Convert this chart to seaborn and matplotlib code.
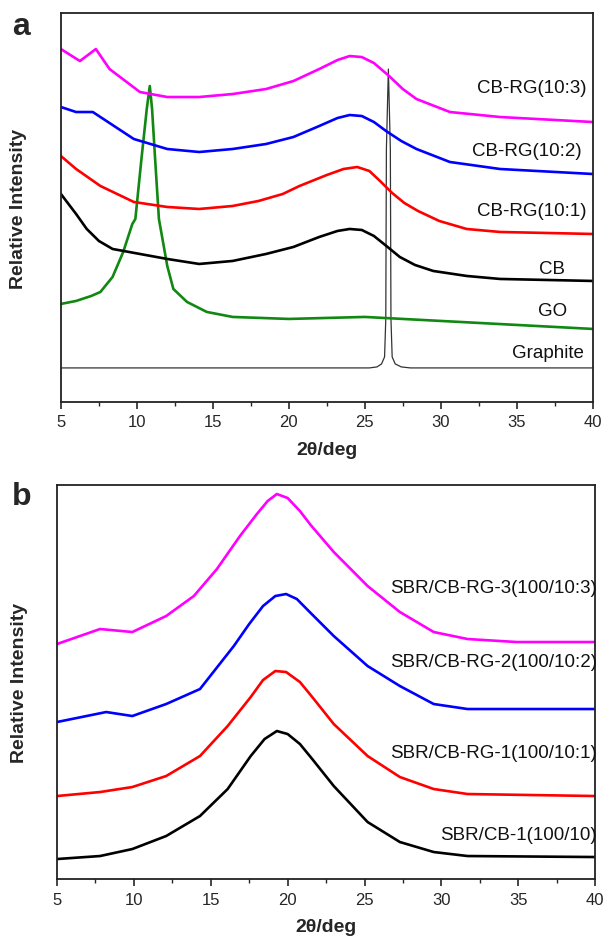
import matplotlib
matplotlib.use("Agg")
import matplotlib.pyplot as plt
import seaborn as sns
from matplotlib.ticker import MultipleLocator

sns.set_style("ticks")
plt.rcParams['font.family'] = ['Liberation Sans', 'DejaVu Sans']

# %% panel a data (2theta in deg, relative intensity in arbitrary units)
graphite_x = [5, 25.3, 25.8, 26.1, 26.3, 26.38, 26.42, 26.55, 26.68, 26.72, 26.8, 27.0, 27.4, 28, 40]
graphite_y = [34, 34, 35, 38, 45, 83, 253, 333, 253, 83, 45, 38, 35, 34, 34]

go_x = [5, 6, 7, 7.6, 8.4, 9.1, 9.7, 9.9, 10.3, 10.65, 10.85, 11.0, 11.2, 11.45, 12.0,
        12.4, 13.3, 14.6, 16.3, 20, 25, 30, 35, 40]
go_y = [98, 101, 106, 110, 125, 150, 178, 183, 243, 293, 316, 293, 243, 183, 136,
        113, 100, 90, 85, 83, 85, 81, 77, 73]

cb_x = [5, 6, 6.7, 7.5, 8.4, 10.2, 12, 14.1, 16.3, 18.5, 20.3, 22, 23.2, 24, 24.8, 25.6, 26.5,
        27.3, 28.3, 29.5, 31.7, 33.9, 40]
cb_y = [208, 188, 173, 161, 153, 148, 143, 138, 141, 148, 155, 165, 171, 173, 172, 166, 155,
        145, 137, 131, 126, 123, 121]

rg1_x = [5, 6, 7.6, 9.8, 12, 14.1, 16.3, 18, 19.6, 20.7, 22.5, 23.6, 24.5, 25.3, 26.0, 26.8,
         27.6, 28.5, 29.9, 31.7, 33.9, 40]
rg1_y = [246, 233, 216, 200, 195, 193, 196, 201, 208, 216, 227, 233, 235, 231, 221, 209,
         199, 191, 181, 173, 170, 168]

rg2_x = [5, 6, 7.1, 8, 9.8, 12, 14.1, 16.3, 18.5, 20.3, 22, 23.2, 24, 24.8, 25.6, 26.4,
         27.4, 28.4, 30.6, 33.9, 40]
rg2_y = [295, 290, 290, 281, 263, 253, 250, 253, 258, 265, 276, 284, 287, 286, 280, 271,
         261, 253, 240, 233, 228]

rg3_x = [5, 6.25, 7.3, 8.2, 10.2, 12, 14.1, 16.3, 18.5, 20.3, 22, 23.2, 24, 24.8, 25.6, 26.6,
         27.5, 28.4, 30.6, 33.9, 40]
rg3_y = [353, 341, 353, 333, 310, 305, 305, 308, 313, 321, 333, 342, 346, 345, 339, 326,
         313, 303, 290, 285, 280]

# %% panel b data
sbr3_x = [5, 7.8, 9.9, 12.1, 13.9, 15.4, 16.9, 18.0, 18.7, 19.3, 20.0, 20.8, 21.5, 23, 25.2,
          27.3, 29.5, 31.7, 34.9, 40]
sbr3_y = [235, 250, 247, 263, 283, 310, 343, 365, 378, 385, 381, 368, 354, 327, 293,
          267, 247, 240, 237, 237]

sbr2_x = [5, 8.2, 9.9, 12.1, 14.3, 16.5, 17.5, 18.4, 19.2, 19.9, 20.6, 21.5, 23, 25.2, 27.3,
          29.5, 31.7, 40]
sbr2_y = [157, 167, 163, 175, 190, 233, 255, 273, 283, 285, 280, 266, 243, 213, 193,
          175, 170, 170]

sbr1_x = [5, 7.8, 9.9, 12.1, 14.3, 16.1, 17.6, 18.4, 19.2, 19.9, 20.8, 21.6, 23, 25.2, 27.3,
          29.5, 31.7, 40]
sbr1_y = [83, 87, 92, 103, 123, 153, 182, 199, 208, 207, 197, 182, 155, 123, 102,
          90, 85, 83]

sbr0_x = [5, 7.8, 9.9, 12.1, 14.3, 16.1, 17.6, 18.5, 19.3, 20.0, 20.8, 21.6, 23, 25.2, 27.3,
          29.5, 31.7, 40]
sbr0_y = [20, 23, 30, 43, 63, 90, 123, 140, 148, 145, 135, 120, 93, 57, 37, 27, 23, 22]

labels_a = ['CB-RG(10:3)', 'CB-RG(10:2)', 'CB-RG(10:1)', 'CB', 'GO', 'Graphite']
labels_b = ['SBR/CB-RG-3(100/10:3)', 'SBR/CB-RG-2(100/10:2)', 'SBR/CB-RG-1(100/10:1)', 'SBR/CB-1(100/10)']

fig = plt.figure(figsize=(6.03, 9.37), dpi=100)
ax1 = fig.add_axes([0.101, 0.570, 0.882, 0.415])
ax2 = fig.add_axes([0.0945, 0.0608, 0.8925, 0.4205])

lw = 1.9

# %% panel a curves
sns.lineplot(x=graphite_x, y=graphite_y, ax=ax1, color='#333333', linewidth=0.9)
sns.lineplot(x=go_x, y=go_y, ax=ax1, color='#118811', linewidth=lw)
sns.lineplot(x=cb_x, y=cb_y, ax=ax1, color='black', linewidth=lw)
sns.lineplot(x=rg1_x, y=rg1_y, ax=ax1, color='#ff0000', linewidth=lw)
sns.lineplot(x=rg2_x, y=rg2_y, ax=ax1, color='#0000ff', linewidth=lw)
sns.lineplot(x=rg3_x, y=rg3_y, ax=ax1, color='#ff00ff', linewidth=lw)
ax1.set_ylim(0, 389)

# label placement (deg, intensity)
lab_a_x = [39.6, 39.3, 39.6, 38.2, 38.3, 39.4]
lab_a_y = [315, 252, 191, 133, 91, 49]
for t, lx, ly in zip(labels_a, lab_a_x, lab_a_y):
    ax1.text(lx, ly, t, ha='right', va='center', fontsize=13.5, color='#111111')

# %% panel b curves
sns.lineplot(x=sbr0_x, y=sbr0_y, ax=ax2, color='black', linewidth=lw)
sns.lineplot(x=sbr1_x, y=sbr1_y, ax=ax2, color='#ff0000', linewidth=lw)
sns.lineplot(x=sbr2_x, y=sbr2_y, ax=ax2, color='#0000ff', linewidth=lw)
sns.lineplot(x=sbr3_x, y=sbr3_y, ax=ax2, color='#ff00ff', linewidth=lw)
ax2.set_ylim(0, 394)

lab_b_y = [292, 218, 127, 45]
for t, ly in zip(labels_b, lab_b_y):
    ax2.text(40.1, ly, t, ha='right', va='center', fontsize=13.5, color='#111111')

# %% axes styling
for ax, lx in [(ax1, -0.064), (ax2, -0.054)]:
    ax.set_xlim(5, 40)
    ax.xaxis.set_major_locator(MultipleLocator(5))
    ax.xaxis.set_minor_locator(MultipleLocator(2.5))
    ax.set_yticks([])
    ax.tick_params(axis='x', which='major', direction='out', length=5, width=1.2, labelsize=12, pad=4)
    ax.tick_params(axis='x', which='minor', direction='out', length=3, width=1.0)
    for s in ax.spines.values():
        s.set_visible(True)
        s.set_linewidth(1.3)
        s.set_color('#222222')
    ax.set_xlabel('2θ/deg', fontsize=14, fontweight='bold', labelpad=8)
    ax.set_ylabel('Relative Intensity', fontsize=14, fontweight='bold')
    ax.yaxis.set_label_coords(lx, 0.5)

fig.text(12 / 603, 1 - 35 / 937, 'a', fontsize=23, fontweight='bold', ha='left', va='baseline')
fig.text(12 / 603, 1 - 505 / 937, 'b', fontsize=23, fontweight='bold', ha='left', va='baseline')

fig.savefig('out.png', dpi=100)
